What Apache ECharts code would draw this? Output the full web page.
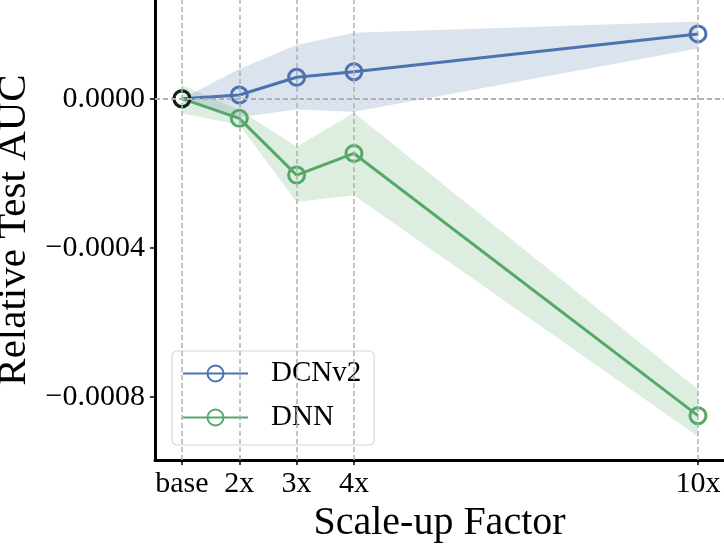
<!DOCTYPE html>
<html>
<head>
<meta charset="utf-8">
<script src="https://cdn.jsdelivr.net/npm/echarts@6/dist/echarts.min.js"></script>
<style>
html,body{margin:0;padding:0;background:#fff;}
#main{width:724px;height:544px;}
</style>
</head>
<body>
<div id="main"></div>
<script>
const xVals = [1, 2, 3, 4, 10];
const xLabels = ['base', '2x', '3x', '4x', '10x'];
const yTicks = [-0.0008, -0.0004, 0];

const dcnMean = [0, 0.00001, 0.0000575, 0.0000725, 0.000174];
const dcnLow  = [0, -0.00005, -0.000029, -0.000035, 0.000135];
const dcnHigh = [0, 0.00008, 0.000144, 0.000177, 0.000207];

const dnnMean = [0, -0.0000527, -0.000205, -0.000147, -0.000851];
const dnnLow  = [-0.00004, -0.00007, -0.000277, -0.000259, -0.000907];
const dnnHigh = [0.000037, -0.00003, -0.000129, -0.0000376, -0.00078];

const BLUE = '#4c72b0';
const GREEN = '#55a868';
const FONT = 'Liberation Serif';

function band(name, low, high, fill) {
  return {
    type: 'custom',
    name: name,
    coordinateSystem: 'cartesian2d',
    silent: true,
    clip: true,
    z: 1,
    data: xVals.map((x, i) => [x, low[i], high[i]]),
    renderItem: function (params, api) {
      if (params.dataIndex !== 0) return null;
      const pts = [];
      for (let i = 0; i < xVals.length; i++) pts.push(api.coord([xVals[i], high[i]]));
      for (let i = xVals.length - 1; i >= 0; i--) pts.push(api.coord([xVals[i], low[i]]));
      return { type: 'polygon', shape: { points: pts }, style: { fill: fill } };
    }
  };
}

function line(name, vals, color) {
  return {
    type: 'line',
    name: name,
    data: xVals.map((x, i) => [x, vals[i]]),
    symbol: 'circle',
    symbolSize: 16,
    showAllSymbol: true,
    z: 3,
    lineStyle: { color: color, width: 3 },
    itemStyle: { color: 'rgba(255,255,255,0)', borderColor: color, borderWidth: 3 },
    emphasis: { disabled: true }
  };
}

const gridStyle = { color: '#b0b0b0', width: 1.5, type: [5, 3] };

const chart = echarts.init(document.getElementById('main'), null, { renderer: 'canvas' });
chart.setOption({
  animation: false,
  backgroundColor: '#fff',
  grid: { left: 155, right: 0, top: 0, bottom: 84, containLabel: false, outerBoundsMode: 'none' },
  xAxis: {
    type: 'value',
    min: 0.53,
    max: 10.454,
    name: 'Scale-up Factor',
    nameLocation: 'middle',
    nameGap: 31,
    nameTextStyle: { fontFamily: FONT, fontSize: 40, color: '#000' },
    axisLine: { show: true, onZero: false, lineStyle: { color: '#000', width: 3 } },
    axisTick: { show: true, length: 5, customValues: xVals, lineStyle: { color: '#000', width: 1.5 } },
    axisLabel: {
      customValues: xVals,
      margin: 9,
      fontFamily: FONT, fontSize: 30, color: '#000',
      formatter: function (v) { const i = xVals.indexOf(v); return i >= 0 ? xLabels[i] : ''; }
    },
    splitLine: { show: false }
  },
  yAxis: {
    type: 'value',
    min: -0.00097,
    max: 0.000265,
    name: 'Relative Test AUC',
    nameLocation: 'middle',
    nameGap: 120,
    nameTextStyle: { fontFamily: FONT, fontSize: 41, color: '#000' },
    axisLine: { show: true, onZero: false, lineStyle: { color: '#000', width: 3 } },
    axisTick: { show: true, length: 5, customValues: yTicks, lineStyle: { color: '#000', width: 1.5 } },
    axisLabel: {
      customValues: yTicks,
      margin: 10,
      fontFamily: FONT, fontSize: 30, color: '#000',
      formatter: function (v) { return (v < 0 ? '\u2212' : '') + Math.abs(v).toFixed(4); }
    },
    splitLine: { show: false }
  },
  legend: {
    data: ['DCNv2', 'DNN'],
    orient: 'vertical',
    left: 172,
    top: 351,
    itemWidth: 65,
    itemHeight: 20,
    itemGap: 15,
    padding: [8, 13, 13, 10],
    borderColor: '#d6d6d6',
    borderWidth: 1.2,
    borderRadius: 5,
    backgroundColor: 'rgba(255,255,255,0.6)',
    selectedMode: false,
    textStyle: { fontFamily: FONT, fontSize: 29, color: '#000', padding: [0, 0, 0, 18] }
  },
  series: [
    {
      type: 'line',
      name: 'grid',
      data: [],
      silent: true,
      z: 0,
      markLine: {
        silent: true,
        symbol: 'none',
        label: { show: false },
        lineStyle: gridStyle,
        data: xVals.map(x => ({ xAxis: x })).concat(yTicks.map(y => ({ yAxis: y })))
      }
    },
    band('DCNv2 band', dcnLow, dcnHigh, 'rgba(76,114,176,0.2)'),
    band('DNN band', dnnLow, dnnHigh, 'rgba(85,168,104,0.2)'),
    line('DCNv2', dcnMean, BLUE),
    line('DNN', dnnMean, GREEN),
    {
      type: 'scatter',
      name: 'base',
      data: [[xVals[0], 0]],
      symbol: 'circle',
      symbolSize: 16,
      z: 4,
      itemStyle: { color: 'rgba(255,255,255,0)', borderColor: '#000', borderWidth: 3 },
      silent: true
    }
  ]
});
</script>
</body>
</html>
